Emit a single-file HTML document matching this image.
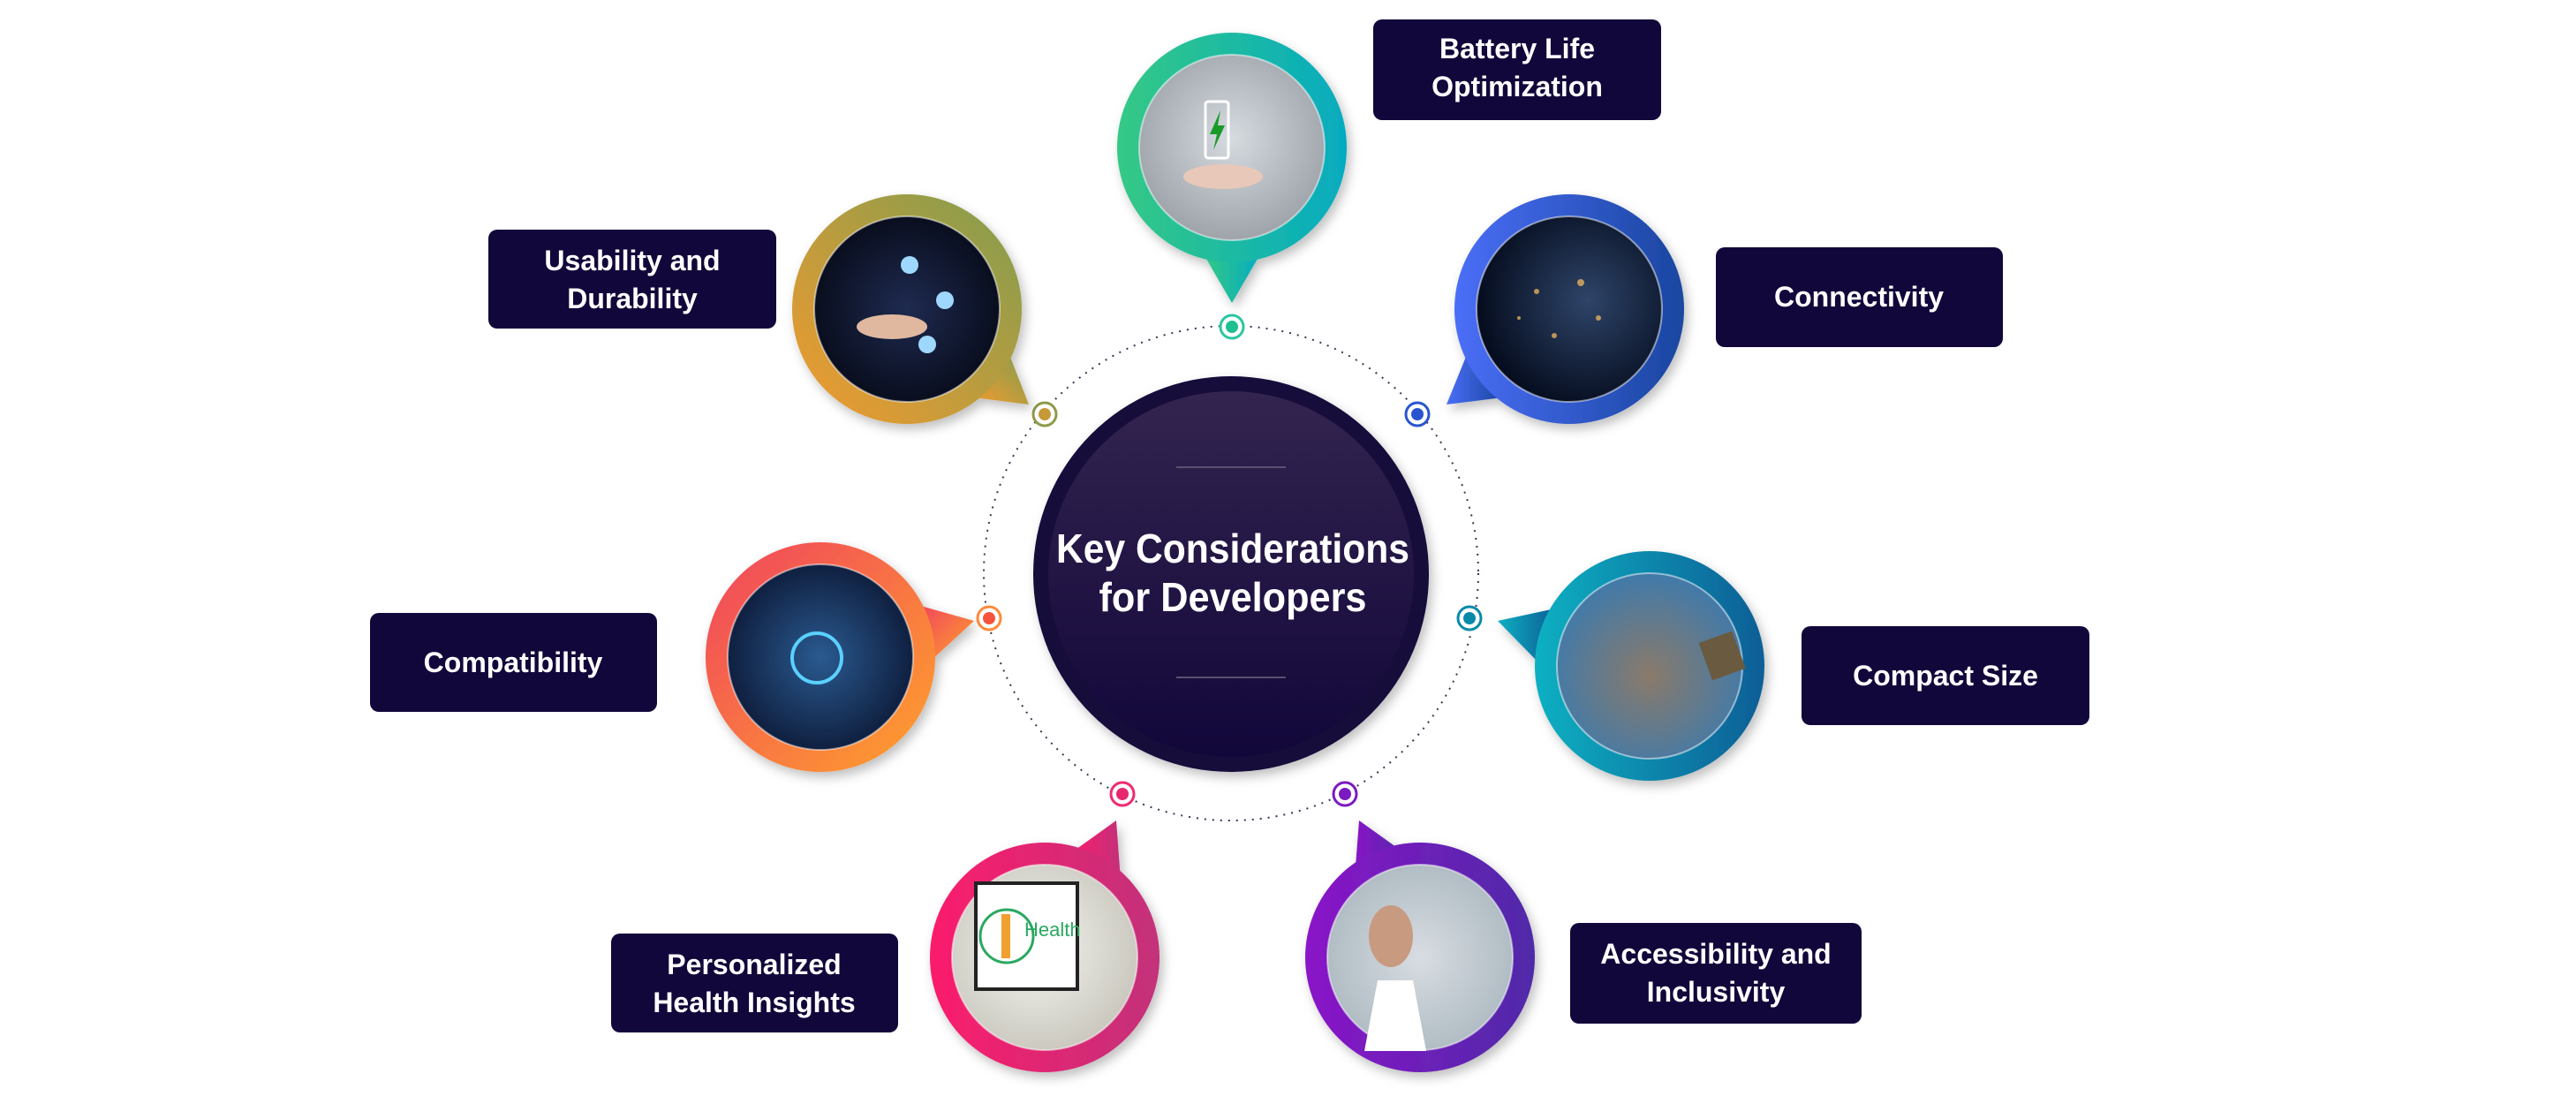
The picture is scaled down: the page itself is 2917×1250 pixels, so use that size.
<!DOCTYPE html>
<html><head><meta charset="utf-8"><style>
html,body{margin:0;padding:0;background:#fff;}
svg{display:block;}
text{font-family:"Liberation Sans",Arial,sans-serif;font-weight:bold;fill:#fff;}
</style></head><body>
<svg width="2917" height="1250" viewBox="0 0 2917 1250" xmlns="http://www.w3.org/2000/svg">
<defs>
<linearGradient id="gBat" x1="0" y1="0" x2="1" y2="0"><stop offset="0" stop-color="#35c985"/><stop offset="1" stop-color="#05abc0"/></linearGradient>
<linearGradient id="gUse" x1="1" y1="0" x2="0" y2="1"><stop offset="0" stop-color="#7f9e4f"/><stop offset="1" stop-color="#f39a2e"/></linearGradient>
<linearGradient id="gCon" x1="0" y1="0" x2="1" y2="0"><stop offset="0" stop-color="#4a6ef7"/><stop offset="1" stop-color="#1a46a0"/></linearGradient>
<linearGradient id="gCmp" x1="0" y1="0" x2="1" y2="1"><stop offset="0" stop-color="#f0435e"/><stop offset="1" stop-color="#ffa22b"/></linearGradient>
<linearGradient id="gSz" x1="0" y1="0" x2="1" y2="0"><stop offset="0" stop-color="#0bb0c2"/><stop offset="1" stop-color="#0a5e96"/></linearGradient>
<linearGradient id="gHl" x1="0" y1="0" x2="1" y2="0"><stop offset="0" stop-color="#fb1d6c"/><stop offset="1" stop-color="#c3317a"/></linearGradient>
<linearGradient id="gAc" x1="0" y1="0" x2="1" y2="0"><stop offset="0" stop-color="#8a15c8"/><stop offset="1" stop-color="#4f2aa8"/></linearGradient>
<linearGradient id="gCenter" x1="0" y1="0" x2="0" y2="1"><stop offset="0" stop-color="#33244f"/><stop offset="1" stop-color="#12073a"/></linearGradient>
<radialGradient id="pBat" cx="0.5" cy="0.45" r="0.6"><stop offset="0" stop-color="#d6dbe0"/><stop offset="1" stop-color="#9a9fa6"/></radialGradient>
<radialGradient id="pUse" cx="0.5" cy="0.5" r="0.6"><stop offset="0" stop-color="#1e2a50"/><stop offset="1" stop-color="#050814"/></radialGradient>
<radialGradient id="pCon" cx="0.6" cy="0.45" r="0.6"><stop offset="0" stop-color="#2e4468"/><stop offset="1" stop-color="#050c1e"/></radialGradient>
<radialGradient id="pCmp" cx="0.5" cy="0.5" r="0.6"><stop offset="0" stop-color="#2a5a90"/><stop offset="1" stop-color="#0a1430"/></radialGradient>
<radialGradient id="pSz" cx="0.5" cy="0.55" r="0.6"><stop offset="0" stop-color="#8a7a6a"/><stop offset="1" stop-color="#3a7ab0"/></radialGradient>
<radialGradient id="pHl" cx="0.45" cy="0.45" r="0.6"><stop offset="0" stop-color="#f4f4f0"/><stop offset="1" stop-color="#c8c6bc"/></radialGradient>
<radialGradient id="pAc" cx="0.5" cy="0.5" r="0.6"><stop offset="0" stop-color="#d8dde2"/><stop offset="1" stop-color="#a9b6be"/></radialGradient>
<filter id="sh" x="-20%" y="-20%" width="140%" height="140%"><feDropShadow dx="4" dy="6" stdDeviation="6" flood-opacity="0.25"/></filter>
</defs>

<circle cx="1394" cy="649" r="280" fill="none" stroke="#3a3550" stroke-width="2" stroke-dasharray="2 7"/>

<circle cx="1394" cy="650" r="224" fill="#12073a" filter="url(#sh)"/>
<circle cx="1394" cy="650" r="207" fill="url(#gCenter)"/>
<line x1="1332" y1="529" x2="1456" y2="529" stroke="#5a5070" stroke-width="2"/>
<line x1="1332" y1="767" x2="1456" y2="767" stroke="#5a5070" stroke-width="2"/>
<text x="1396" y="637" font-size="46" text-anchor="middle" textLength="400" lengthAdjust="spacingAndGlyphs">Key Considerations</text>
<text x="1396" y="692" font-size="46" text-anchor="middle" textLength="303" lengthAdjust="spacingAndGlyphs">for Developers</text>

<g stroke-width="3" fill="#fff">
<circle cx="1395" cy="370" r="13" stroke="#2cc7a0"/><circle cx="1395" cy="370" r="7" fill="#1ec092" stroke="none"/>
<circle cx="1183" cy="469" r="13" stroke="#8f9a4a"/><circle cx="1183" cy="469" r="7" fill="#c69a38" stroke="none"/>
<circle cx="1605" cy="469" r="13" stroke="#2a55d0"/><circle cx="1605" cy="469" r="7" fill="#2a55d0" stroke="none"/>
<circle cx="1120" cy="700" r="13" stroke="#ff8a3a"/><circle cx="1120" cy="700" r="7" fill="#f5533e" stroke="none"/>
<circle cx="1664" cy="700" r="13" stroke="#0a8aaa"/><circle cx="1664" cy="700" r="7" fill="#0a8aaa" stroke="none"/>
<circle cx="1271" cy="899" r="13" stroke="#f02a70"/><circle cx="1271" cy="899" r="7" fill="#e6266e" stroke="none"/>
<circle cx="1523" cy="899" r="13" stroke="#7a1ac0"/><circle cx="1523" cy="899" r="7" fill="#7a1ac0" stroke="none"/>
</g>

<g filter="url(#sh)">
<polygon points="1363,288 1427,288 1395,343" fill="url(#gBat)"/>
<circle cx="1395" cy="167" r="130" fill="url(#gBat)"/>
<polygon points="1142,399 1102,450 1165,458" fill="url(#gUse)"/>
<circle cx="1027" cy="350" r="130" fill="url(#gUse)"/>
<polygon points="1702,450 1662,399 1638,458" fill="url(#gCon)"/>
<circle cx="1777" cy="350" r="130" fill="url(#gCon)"/>
<polygon points="1039,685 1054,748 1103,703" fill="url(#gCmp)"/>
<circle cx="929" cy="744" r="130" fill="url(#gCmp)"/>
<polygon points="1743,751 1761,689 1696,703" fill="url(#gSz)"/>
<circle cx="1868" cy="754" r="130" fill="url(#gSz)"/>
<polygon points="1211,967 1269,996 1264,929" fill="url(#gHl)"/>
<circle cx="1183" cy="1084" r="130" fill="url(#gHl)"/>
<polygon points="1534,994 1592,967 1539,929" fill="url(#gAc)"/>
<circle cx="1608" cy="1084" r="130" fill="url(#gAc)"/>
</g>
<g stroke="#ffffff" stroke-opacity="0.5" stroke-width="2">
<circle cx="1395" cy="167" r="105" fill="url(#pBat)"/>
<circle cx="1027" cy="350" r="105" fill="url(#pUse)"/>
<circle cx="1777" cy="350" r="105" fill="url(#pCon)"/>
<circle cx="929" cy="744" r="105" fill="url(#pCmp)"/>
<circle cx="1868" cy="754" r="105" fill="url(#pSz)"/>
<circle cx="1183" cy="1084" r="105" fill="url(#pHl)"/>
<circle cx="1608" cy="1084" r="105" fill="url(#pAc)"/>
</g>
<rect x="1365" y="115" width="26" height="64" rx="3" fill="none" stroke="#fff" stroke-width="3"/>
<polygon points="1382,125 1370,152 1378,152 1374,170 1387,142 1379,142" fill="#1a9a2a"/>
<ellipse cx="1385" cy="200" rx="45" ry="14" fill="#e8c8b8"/>
<rect x="1105" y="1000" width="115" height="120" fill="#fff" stroke="#222" stroke-width="4"/>
<circle cx="1140" cy="1060" r="30" fill="none" stroke="#2aa860" stroke-width="3"/>
<rect x="1134" y="1035" width="10" height="50" fill="#f0a030"/>
<text x="1160" y="1060" font-size="22" style="fill:#2aa860;font-weight:normal">Health</text>
<ellipse cx="1575" cy="1060" rx="25" ry="35" fill="#c89a80"/>
<path d="M1545,1190 L1560,1110 L1600,1110 L1615,1190 Z" fill="#fff"/>
<rect x="1930" y="720" width="40" height="45" fill="#6a5a40" transform="rotate(-20 1950 742)"/>
<circle cx="925" cy="745" r="28" fill="none" stroke="#5ad0ff" stroke-width="4"/>
<g fill="#ffc060" opacity="0.7"><circle cx="1740" cy="330" r="3"/><circle cx="1790" cy="320" r="4"/><circle cx="1810" cy="360" r="3"/><circle cx="1760" cy="380" r="3"/><circle cx="1720" cy="360" r="2"/></g>
<g fill="#9fd8ff"><circle cx="1030" cy="300" r="10"/><circle cx="1070" cy="340" r="10"/><circle cx="1050" cy="390" r="10"/></g>
<ellipse cx="1010" cy="370" rx="40" ry="14" fill="#e0b8a0"/>

<g fill="#12073a">
<rect x="1555" y="22" width="326" height="114" rx="10"/>
<rect x="553" y="260" width="326" height="112" rx="10"/>
<rect x="1943" y="280" width="325" height="113" rx="10"/>
<rect x="419" y="694" width="325" height="112" rx="10"/>
<rect x="2040" y="709" width="326" height="112" rx="10"/>
<rect x="692" y="1057" width="325" height="112" rx="10"/>
<rect x="1778" y="1045" width="330" height="114" rx="10"/>
</g>
<g font-size="32" text-anchor="middle">
<text x="1718" y="66">Battery Life</text>
<text x="1718" y="109">Optimization</text>
<text x="716" y="306">Usability and</text>
<text x="716" y="349">Durability</text>
<text x="2105" y="347">Connectivity</text>
<text x="581" y="761">Compatibility</text>
<text x="2203" y="776">Compact Size</text>
<text x="854" y="1103">Personalized</text>
<text x="854" y="1146">Health Insights</text>
<text x="1943" y="1091">Accessibility and</text>
<text x="1943" y="1134">Inclusivity</text>
</g>
</svg>
</body></html>
